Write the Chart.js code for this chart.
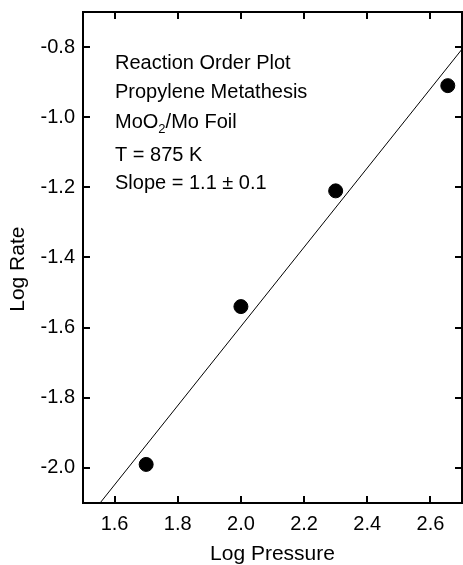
<!DOCTYPE html>
<html>
<head>
<meta charset="utf-8">
<script src="https://cdn.jsdelivr.net/npm/chart.js@4"></script>
<style>
  html, body { margin: 0; padding: 0; background: #fff; }
  #wrap { width: 463px; height: 565px; }
</style>
</head>
<body>
<div id="wrap"><canvas id="myChart" width="463" height="565"></canvas></div>
<script>
// measured data (log pressure vs log rate)
var logPressure = [1.70, 2.00, 2.30, 2.655];
var logRate = [-1.99, -1.54, -1.21, -0.91];
// fitted line end points
var fitX = [1.554, 2.70];
var fitY = [-2.10, -0.806];
var xTicks = [1.6, 1.8, 2.0, 2.2, 2.4, 2.6];
var yTicks = [-2.0, -1.8, -1.6, -1.4, -1.2, -1.0, -0.8];
var noteLines = ['Reaction Order Plot', 'Propylene Metathesis', 'MoO2/Mo Foil', 'T = 875 K', 'Slope = 1.1 \u00b1 0.1'];

var FONT = '"Liberation Sans", Arial, sans-serif';

// frame, inward ticks on all sides, and the text block
var framePlugin = {
    id: 'frame',
    afterDraw: function(chart) {
        var ctx = chart.ctx;
        var a = chart.chartArea;
        var xs = chart.scales.x, ys = chart.scales.y;
        var tl = 7;
        ctx.save();
        ctx.strokeStyle = '#000';
        ctx.lineWidth = 2;
        ctx.strokeRect(a.left, a.top, a.right - a.left, a.bottom - a.top);
        ctx.beginPath();
        xTicks.forEach(function(v) {
            var px = Math.round(xs.getPixelForValue(v));
            ctx.moveTo(px, a.bottom); ctx.lineTo(px, a.bottom - tl);
            ctx.moveTo(px, a.top); ctx.lineTo(px, a.top + tl);
        });
        yTicks.forEach(function(v) {
            var py = Math.round(ys.getPixelForValue(v));
            ctx.moveTo(a.left, py); ctx.lineTo(a.left + tl, py);
            ctx.moveTo(a.right, py); ctx.lineTo(a.right - tl, py);
        });
        ctx.stroke();

        // annotation
        ctx.fillStyle = '#000';
        ctx.textBaseline = 'middle';
        ctx.textAlign = 'left';
        var tx = a.left + 32;
        var ty = [63, 92, 122, 155, 183];
        noteLines.forEach(function(s, i) {
            ctx.font = '20px ' + FONT;
            if (s.indexOf('MoO2') === 0) {
                var p1 = 'MoO', p3 = s.slice(4);
                ctx.fillText(p1, tx, ty[i]);
                var w1 = ctx.measureText(p1).width;
                ctx.font = '13px ' + FONT;
                ctx.fillText('2', tx + w1, ty[i] + 7);
                var w2 = ctx.measureText('2').width;
                ctx.font = '20px ' + FONT;
                ctx.fillText(p3, tx + w1 + w2, ty[i]);
            } else {
                ctx.fillText(s, tx, ty[i]);
            }
        });
        ctx.restore();
    }
};

function noPad(s) {
    s.paddingLeft = 0; s.paddingRight = 0; s.paddingTop = 0; s.paddingBottom = 0;
}

var ctx = document.getElementById('myChart').getContext('2d');
var chart = new Chart(ctx, {
    type: 'scatter',
    data: {
        datasets: [{
            label: 'data',
            data: logPressure.map(function(x, i) { return { x: x, y: logRate[i] }; }),
            backgroundColor: '#000',
            borderColor: '#000',
            pointRadius: 7,
            pointHoverRadius: 7
        }, {
            label: 'fit',
            type: 'line',
            data: fitX.map(function(x, i) { return { x: x, y: fitY[i] }; }),
            borderColor: '#000',
            borderWidth: 1,
            pointRadius: 0,
            fill: false
        }]
    },
    options: {
        responsive: false,
        animation: false,
        events: [],
        layout: { autoPadding: false, padding: { top: 12, right: 1, left: 0, bottom: 0 } },
        plugins: { legend: { display: false }, tooltip: { enabled: false } },
        scales: {
            x: {
                type: 'linear',
                min: 1.5,
                max: 2.7,
                afterBuildTicks: function(s) { s.ticks = xTicks.map(function(v) { return { value: v }; }); },
                afterFit: function(s) { s.height = 62; noPad(s); },
                grid: { display: false, drawTicks: false },
                border: { display: false },
                ticks: {
                    color: '#000',
                    padding: 9,
                    font: { family: FONT, size: 20 },
                    callback: function(v) { return v.toFixed(1); }
                },
                title: {
                    display: true,
                    text: 'Log Pressure',
                    color: '#000',
                    font: { family: FONT, size: 21, lineHeight: 1 },
                    padding: 0
                }
            },
            y: {
                type: 'linear',
                min: -2.1,
                max: -0.7,
                afterBuildTicks: function(s) { s.ticks = yTicks.map(function(v) { return { value: v }; }); },
                afterFit: function(s) { s.width = 83; noPad(s); },
                grid: { display: false, drawTicks: false },
                border: { display: false },
                ticks: {
                    color: '#000',
                    padding: 8,
                    font: { family: FONT, size: 20 },
                    callback: function(v) { return v.toFixed(1); }
                },
                title: {
                    display: true,
                    text: 'Log Rate    ',
                    color: '#000',
                    font: { family: FONT, size: 21, lineHeight: 1 },
                    padding: { top: 8, bottom: 0 }
                }
            }
        }
    },
    plugins: [framePlugin]
});
</script>
</body>
</html>
